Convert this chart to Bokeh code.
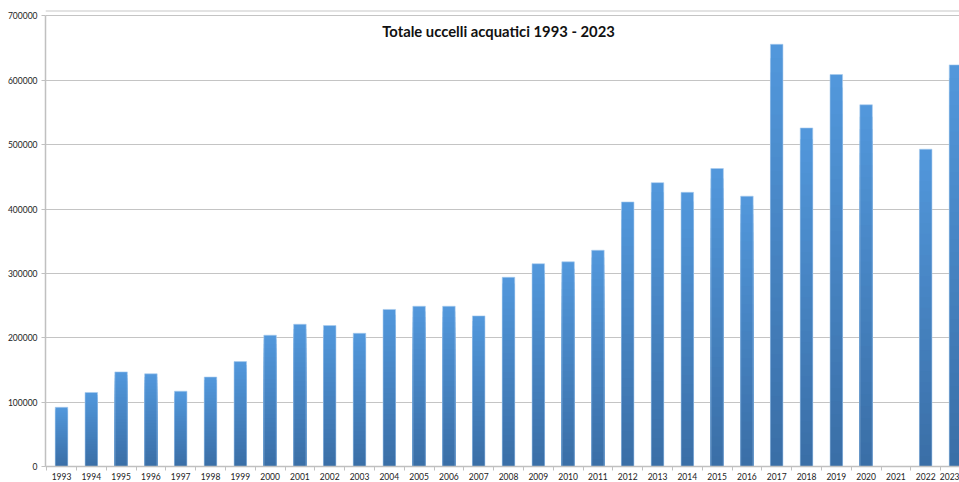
from bokeh.plotting import figure
from bokeh.models import Range1d, FixedTicker, Label, Span, NumeralTickFormatter, BasicTickFormatter, ColumnDataSource
from bokeh.embed import file_html
from bokeh.resources import INLINE

# ---- data ----
years = list(range(1993, 2024))
totals = [92000, 115000, 147000, 144000, 117000, 139000, 163000, 204000, 221000, 219000,
          207000, 244000, 249000, 249000, 234000, 294000, 315000, 318000, 336000, 411000,
          441000, 426000, 463000, 420000, 656000, 526000, 609000, 562000, float("nan"), 493000, 624000]
y_ticks = [0, 100000, 200000, 300000, 400000, 500000, 600000, 700000]
title_text = "Totale uccelli acquatici 1993 - 2023"

BAR_W = 0.42
N_SLICES = 30
TOP_RGB = (82, 152, 220)
BOT_RGB = (58, 110, 166)

def mix(f):
    r = [round(BOT_RGB[i] + (TOP_RGB[i] - BOT_RGB[i]) * f) for i in range(3)]
    return "#%02x%02x%02x" % tuple(r)

# gradient: nested quads from 0 up to a fraction of each value, tallest first (no seams)
left, right, bottom, top, color = [], [], [], [], []
for k in range(N_SLICES - 1, -1, -1):
    for yr, v in zip(years, totals):
        if v != v:
            continue
        left.append(yr - BAR_W / 2)
        right.append(yr + BAR_W / 2)
        bottom.append(0)
        top.append(v * (k + 1) / N_SLICES)
        color.append(mix((k + 0.5) / N_SLICES))
slices = ColumnDataSource(dict(left=left, right=right, bottom=bottom, top=top, color=color))

p = figure(width=959, height=482, output_backend="svg", toolbar_location=None,
           x_range=Range1d(1992.463, 2023.134), y_range=Range1d(0, 708500),
           min_border_left=45, min_border_right=0, min_border_top=10, min_border_bottom=10)
p.outline_line_color = None
p.background_fill_color = "white"
p.border_fill_color = "white"

# top border line of the chart
p.add_layout(Span(location=708000, dimension="width", line_color="#c8c8c8", line_width=1.5))

p.quad(left="left", right="right", bottom="bottom", top="top", source=slices,
       fill_color="color", line_color=None)
p.vbar(x=years, top=totals, width=BAR_W, fill_color=None,
       line_color="#a8cbef", line_width=1, line_alpha=0.6)

# y axis
p.yaxis.ticker = FixedTicker(ticks=y_ticks)
p.yaxis.formatter = NumeralTickFormatter(format="0")
p.yaxis.bounds = (0, 700000)
p.yaxis.axis_line_color = "#c0c0c0"
p.yaxis.axis_line_width = 1.5
p.yaxis.major_tick_line_color = "#c0c0c0"
p.yaxis.major_tick_in = 0
p.yaxis.major_tick_out = 4
p.yaxis.minor_tick_line_color = None
p.yaxis.major_label_standoff = 4
p.yaxis.major_label_text_font = "Lato"
p.yaxis.major_label_text_font_size = "8.5px"
p.yaxis.major_label_text_color = "#222222"

# x axis
p.xaxis.ticker = FixedTicker(ticks=years, minor_ticks=[y - 0.5 for y in years] + [2023.5])
p.xaxis.formatter = BasicTickFormatter(use_scientific=False)
p.xaxis.axis_line_color = "#c0c0c0"
p.xaxis.axis_line_width = 1.5
p.xaxis.major_tick_line_color = None
p.xaxis.major_tick_in = 0
p.xaxis.major_tick_out = 4
p.xaxis.minor_tick_line_color = "#c0c0c0"
p.xaxis.minor_tick_in = 0
p.xaxis.minor_tick_out = 4
p.xaxis.major_label_standoff = 2
p.xaxis.major_label_text_font = "Lato"
p.xaxis.major_label_text_font_size = "8.5px"
p.xaxis.major_label_text_color = "#222222"

# grid
p.xgrid.grid_line_color = None
p.ygrid.ticker = FixedTicker(ticks=y_ticks)
p.ygrid.grid_line_color = "#c4c4c4"
p.ygrid.grid_line_width = 1.2

# title inside the plot area
p.add_layout(Label(x=2007.665, y=677400, text=title_text, text_align="center",
                   text_baseline="middle", text_font="Lato", text_font_style="bold",
                   text_font_size="14.8px", text_color="#111111"))

open("out.html", "w").write(file_html(p, INLINE))
